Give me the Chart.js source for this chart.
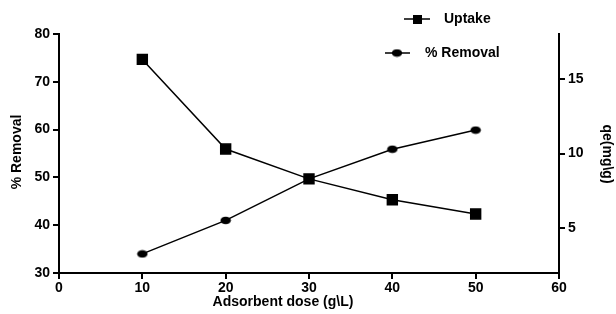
<!DOCTYPE html>
<html>
<head>
<meta charset="utf-8">
<script src="https://cdn.jsdelivr.net/npm/chart.js@4"></script>
<style>
  html, body { margin: 0; padding: 0; background: #fff; }
  #wrap { width: 616px; height: 314px; }
</style>
</head>
<body>
<div id="wrap"><canvas id="chart"></canvas></div>
<script>
const doses = [10, 20, 30, 40, 50];
const removal = [34.0, 41.0, 49.7, 55.9, 59.9];
const uptake = [16.3, 10.3, 8.3, 6.9, 5.95];
const xTicks = [0, 10, 20, 30, 40, 50, 60];
const leftTicks = [30, 40, 50, 60, 70, 80];
const rightTicks = [5, 10, 15];

const FONT = 'bold 14px "Liberation Sans", Arial, sans-serif';
const tickFont = { family: '"Liberation Sans", Arial, sans-serif', size: 14, weight: 'bold' };

// squashed dot used by the % Removal series
const dot = document.createElement('canvas');
dot.width = 12; dot.height = 9;
(function () {
    const c = dot.getContext('2d');
    c.fillStyle = '#000';
    c.beginPath();
    c.ellipse(6, 4.5, 5.2, 3.8, 0, 0, Math.PI * 2);
    c.fill();
})();

const axisGrid = { drawOnChartArea: false, color: '#000', lineWidth: 2, tickLength: 6 };
const axisBorder = { color: '#000', width: 2 };

const extras = {
    id: 'extras',
    afterDraw(chart) {
        const ctx = chart.ctx;
        ctx.save();
        ctx.fillStyle = '#000';
        ctx.strokeStyle = '#000';
        ctx.font = FONT;
        ctx.textBaseline = 'middle';

        // axis titles
        ctx.textAlign = 'center';
        ctx.fillText('Adsorbent dose (g\\L)', 283, 302);
        ctx.save();
        ctx.translate(17, 152);
        ctx.rotate(-Math.PI / 2);
        ctx.fillText('% Removal', 0, 0);
        ctx.restore();
        ctx.save();
        ctx.translate(607, 154);
        ctx.rotate(Math.PI / 2);
        ctx.fillText('qe(mg\\g)', 0, 0);
        ctx.restore();

        // legend
        ctx.textAlign = 'left';
        ctx.lineWidth = 1.5;
        ctx.beginPath();
        ctx.moveTo(404, 19); ctx.lineTo(430, 19);
        ctx.moveTo(385, 53); ctx.lineTo(410, 53);
        ctx.stroke();
        ctx.fillRect(413, 15, 9, 9);
        ctx.drawImage(dot, 397 - dot.width / 2, 53 - dot.height / 2);
        ctx.fillText(chart.data.datasets[1].label, 444, 19);
        ctx.fillText(chart.data.datasets[0].label, 425, 53);
        ctx.restore();
    }
};

new Chart(document.getElementById('chart'), {
    type: 'line',
    data: {
        datasets: [
            {
                label: '% Removal',
                data: doses.map((d, i) => ({ x: d, y: removal[i] })),
                yAxisID: 'y',
                borderColor: '#000',
                backgroundColor: '#000',
                borderWidth: 1.5,
                pointStyle: dot,
                pointRadius: 5,
                tension: 0
            },
            {
                label: 'Uptake',
                data: doses.map((d, i) => ({ x: d, y: uptake[i] })),
                yAxisID: 'y1',
                borderColor: '#000',
                backgroundColor: '#000',
                borderWidth: 1.5,
                pointStyle: 'rect',
                pointRadius: 7,
                tension: 0
            }
        ]
    },
    options: {
        responsive: true,
        maintainAspectRatio: false,
        animation: false,
        layout: { padding: { top: 34, left: 0, right: 0, bottom: 0 } },
        plugins: { legend: { display: false }, tooltip: { enabled: false } },
        scales: {
            x: {
                type: 'linear',
                min: 0, max: 60,
                afterBuildTicks: s => { s.ticks = xTicks.map(v => ({ value: v })); },
                afterFit: s => { s.height = 41; },
                grid: axisGrid,
                border: axisBorder,
                ticks: { color: '#000', font: tickFont, padding: 1, maxRotation: 0 }
            },
            y: {
                position: 'left',
                min: 30, max: 80,
                afterBuildTicks: s => { s.ticks = leftTicks.map(v => ({ value: v })); },
                afterFit: s => { s.width = 59; },
                grid: axisGrid,
                border: axisBorder,
                ticks: { color: '#000', font: tickFont, padding: 3 }
            },
            y1: {
                position: 'right',
                min: 2, max: 18,
                afterBuildTicks: s => { s.ticks = rightTicks.map(v => ({ value: v })); },
                afterFit: s => { s.width = 57; },
                grid: axisGrid,
                border: axisBorder,
                ticks: { color: '#000', font: tickFont, padding: 3 }
            }
        }
    },
    plugins: [extras]
});
</script>
</body>
</html>
